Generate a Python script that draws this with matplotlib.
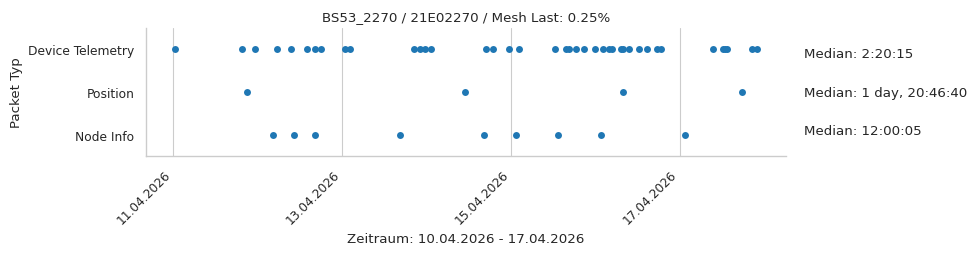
import pandas as pd
import matplotlib
matplotlib.use("Agg")
import matplotlib.pyplot as plt
import matplotlib.dates as mdates
import seaborn as sns

# Zeitstempel je Pakettyp
telemetry = ["2026-04-11 00:34", "2026-04-11 19:36", "2026-04-11 23:17", "2026-04-12 05:27",
             "2026-04-12 09:31", "2026-04-12 14:04", "2026-04-12 16:15", "2026-04-12 18:02",
             "2026-04-13 00:46", "2026-04-13 02:16", "2026-04-13 20:22", "2026-04-13 22:04",
             "2026-04-13 23:41", "2026-04-14 01:17", "2026-04-14 17:06", "2026-04-14 18:53",
             "2026-04-14 23:26", "2026-04-15 02:16", "2026-04-15 12:30", "2026-04-15 15:44",
             "2026-04-15 16:28", "2026-04-15 18:40", "2026-04-15 20:44", "2026-04-16 00:04",
             "2026-04-16 02:20", "2026-04-16 04:02", "2026-04-16 04:48", "2026-04-16 07:14",
             "2026-04-16 08:01", "2026-04-16 09:31", "2026-04-16 12:21", "2026-04-16 14:38",
             "2026-04-16 17:40", "2026-04-16 18:36", "2026-04-17 09:22", "2026-04-17 12:13",
             "2026-04-17 12:53", "2026-04-17 13:33", "2026-04-17 20:34", "2026-04-17 21:59"]
position = ["2026-04-11 21:01", "2026-04-14 10:56", "2026-04-16 07:49", "2026-04-17 17:53"]
nodeinfo = ["2026-04-12 04:24", "2026-04-12 10:22", "2026-04-12 16:20", "2026-04-13 16:28",
            "2026-04-14 16:20", "2026-04-15 01:25", "2026-04-15 13:21", "2026-04-16 01:34",
            "2026-04-17 01:25"]

categories = ["Device Telemetry", "Position", "Node Info"]
medians = ["2:20:15", "1 day, 20:46:40", "12:00:05"]

rows = []
for cat, times in zip(categories, [telemetry, position, nodeinfo]):
    for t in times:
        rows.append({"time": pd.Timestamp(t), "typ": cat})
df = pd.DataFrame(rows)

sns.set_theme(style="whitegrid", context="paper")

fig = plt.figure(figsize=(9.76, 2.55), dpi=100)
ax = fig.add_axes([0.1496, 0.384, 0.6557, 0.502])

ypos = df["typ"].map({c: i for i, c in enumerate(categories)})
ax.scatter(df["time"], ypos, s=25, color="#1f77b4", linewidth=0, zorder=3)

ax.set_yticks(range(len(categories)))
ax.set_yticklabels(categories)
ax.set_ylim(len(categories) - 0.5, -0.5)
ax.grid(False, axis="y")

ax.xaxis.set_major_locator(mdates.DayLocator(bymonthday=range(1, 32, 2)))
ax.xaxis.set_major_formatter(mdates.DateFormatter("%d.%m.%Y"))
plt.setp(ax.get_xticklabels(), rotation=45, ha="right")

ax.set_title("BS53_2270 / 21E02270 / Mesh Last: 0.25%")
ax.set_xlabel("Zeitraum: 10.04.2026 - 17.04.2026")
ax.set_ylabel("Packet Typ")
sns.despine(ax=ax)

for yy, m in zip([0.8, 0.5, 0.2], medians):
    ax.text(1.028, yy, f"Median: {m}", transform=ax.transAxes, va="center", ha="left",
            fontsize=9.6, color=".15")

fig.savefig("out.png", dpi=100)
